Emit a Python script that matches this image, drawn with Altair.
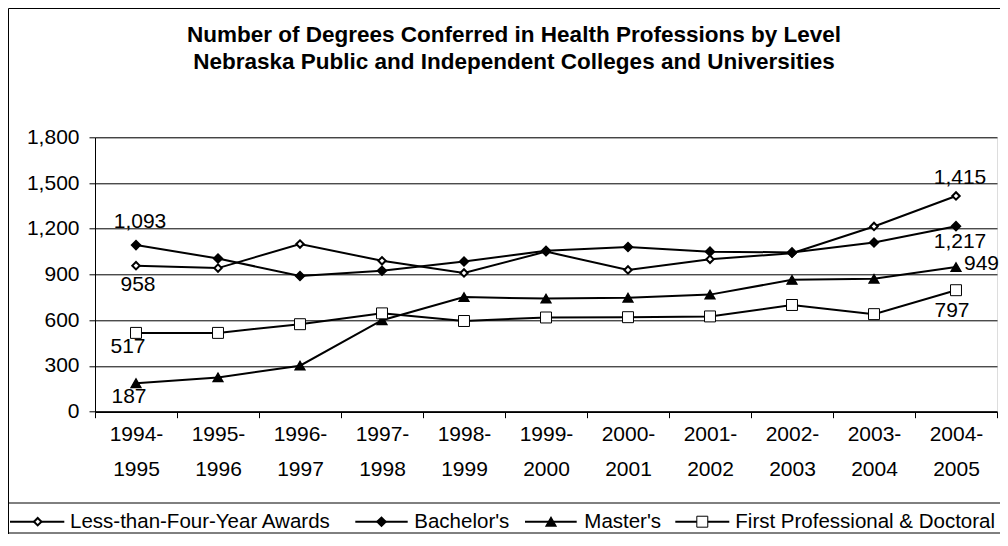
import altair as alt
import pandas as pd

# ---- data ----
periods = ["1994- 1995", "1995- 1996", "1996- 1997", "1997- 1998", "1998- 1999",
           "1999- 2000", "2000- 2001", "2001- 2002", "2002- 2003", "2003- 2004", "2004- 2005"]
series_names = ["Less-than-Four-Year Awards", "Bachelor's", "Master's", "First Professional & Doctoral"]
less_than_four = [958, 942, 1100, 990, 910, 1050, 930, 1000, 1040, 1215, 1415]
bachelors = [1093, 1005, 890, 925, 985, 1055, 1080, 1050, 1045, 1110, 1217]
masters = [187, 225, 302, 600, 752, 742, 748, 768, 865, 872, 949]
first_prof = [517, 517, 574, 645, 595, 618, 620, 625, 700, 640, 797]
y_ticks = [0, 300, 600, 900, 1200, 1500, 1800]
title_lines = ["Number of Degrees Conferred in Health Professions by Level",
               "Nebraska Public and Independent Colleges and Universities"]

values = [less_than_four, bachelors, masters, first_prof]
rows = []
for name, vals in zip(series_names, values):
    for p, v in zip(periods, vals):
        rows.append({"period": p, "series": name, "value": v})
df = pd.DataFrame(rows)

FONT = "Liberation Sans"
FS = 21

shape_scale = alt.Scale(domain=series_names, range=["diamond", "diamond", "triangle-up", "square"])
fill_scale = alt.Scale(domain=series_names, range=["white", "black", "black", "white"])
size_scale = alt.Scale(domain=series_names, range=[55, 120, 150, 90])
sw_scale = alt.Scale(domain=series_names, range=[2, 1, 1, 2])

x_enc = alt.X("period:N", sort=periods, bandPosition=0.5,
              scale=alt.Scale(type="band", paddingInner=0, paddingOuter=0),
              axis=alt.Axis(title=None, labelExpr="split(datum.label, ' ')", tickBand="extent",
                            labelAngle=0, labelFont=FONT, labelFontSize=FS, labelColor="black",
                            labelLineHeight=35, labelPadding=5.7, labelBaseline="top",
                            tickSize=6, tickColor="black", domainColor="black", domainWidth=1.5,
                            grid=False))
y_enc = alt.Y("value:Q", scale=alt.Scale(domain=[0, 1800], nice=False),
              axis=alt.Axis(title=None, values=y_ticks, format=",.0f", tickSize=6, tickColor="black",
                            labelPadding=10, labelFont=FONT, labelFontSize=FS, labelColor="black",
                            domainColor="black", gridColor="black", gridWidth=1, grid=True))

base = alt.Chart(df)
lines = base.mark_line(color="black", strokeWidth=2).encode(x=x_enc, y=y_enc, detail="series:N")
points = base.mark_point(stroke="black", opacity=1, filled=False).encode(
    x=x_enc, y=y_enc,
    shape=alt.Shape("series:N", scale=shape_scale, legend=None),
    fill=alt.Fill("series:N", scale=fill_scale, legend=None),
    size=alt.Size("series:N", scale=size_scale, legend=None),
    strokeWidth=alt.StrokeWidth("series:N", scale=sw_scale, legend=None),
)

# data labels on first and last points (offsets are styling)
label_specs = [
    ("Bachelor's", periods[0], 4, -17, "center"),
    ("Less-than-Four-Year Awards", periods[0], 2, 25, "center"),
    ("First Professional & Doctoral", periods[0], -8, 20, "center"),
    ("Master's", periods[0], -7, 20, "center"),
    ("Less-than-Four-Year Awards", periods[-1], 4, -12, "center"),
    ("Bachelor's", periods[-1], 4, 22, "center"),
    ("Master's", periods[-1], 8, 3, "left"),
    ("First Professional & Doctoral", periods[-1], -4, 26.5, "center"),
]
label_layers = []
for s, p, dx, dy, al in label_specs:
    label_layers.append(
        base.transform_filter((alt.datum.series == s) & (alt.datum.period == p))
        .mark_text(font=FONT, fontSize=FS, color="black", dx=dx, dy=dy, align=al, baseline="alphabetic")
        .encode(x=x_enc, y=y_enc, text=alt.Text("value:Q", format=","))
    )

# title
one = alt.Chart(pd.DataFrame({"t1": [title_lines[0]], "t2": [title_lines[1]]}))
title1 = one.mark_text(font=FONT, fontSize=22.5, fontWeight="bold", color="black", align="center",
                       baseline="alphabetic").encode(x=alt.value(419), y=alt.value(-95.5), text="t1:N")
title2 = one.mark_text(font=FONT, fontSize=22.5, fontWeight="bold", color="black", align="center",
                       baseline="alphabetic").encode(x=alt.value(419), y=alt.value(-68), text="t2:N")

# borders
outer = one.mark_rect(fill=None, stroke="black", strokeWidth=1).encode(
    x=alt.value(-86.5), x2=alt.value(920), y=alt.value(-128.8), y2=alt.value(420))
legend_top = one.mark_rule(color="black", strokeWidth=1).encode(
    x=alt.value(-87), x2=alt.value(920), y=alt.value(365.7))
legend_bottom = one.mark_rule(color="black", strokeWidth=1).encode(
    x=alt.value(-87), x2=alt.value(920), y=alt.value(395.7))

# legend
leg_df = pd.DataFrame({"series": series_names})
leg = alt.Chart(leg_df)
leg_pos = [(-85, -30.7, -57.3, -25), (260.3, 312.7, 286.5, 319.3),
           (430, 481.7, 456, 489.3), (580.3, 634.3, 607.3, 640.3)]
LY = 384.4
legend_layers = []
for s, (x1, x2, mx, tx) in zip(series_names, leg_pos):
    f = leg.transform_filter(alt.datum.series == s)
    legend_layers.append(f.mark_rule(color="black", strokeWidth=2).encode(
        x=alt.value(x1), x2=alt.value(x2), y=alt.value(LY)))
    legend_layers.append(f.mark_point(stroke="black", opacity=1).encode(
        x=alt.value(mx), y=alt.value(LY),
        shape=alt.Shape("series:N", scale=shape_scale, legend=None),
        fill=alt.Fill("series:N", scale=fill_scale, legend=None),
        size=alt.Size("series:N", scale=size_scale, legend=None),
        strokeWidth=alt.StrokeWidth("series:N", scale=sw_scale, legend=None)))
    legend_layers.append(f.mark_text(font=FONT, fontSize=20.5, color="black", align="left",
                                     baseline="alphabetic").encode(
        x=alt.value(tx), y=alt.value(391), text="series:N"))

chart = alt.layer(lines, points, *label_layers, title1, title2, outer, legend_top, legend_bottom,
                  *legend_layers).properties(
    width=902, height=274.4,
    autosize=alt.AutoSizeParams(type="none"),
    padding={"left": 87, "top": 129.3, "right": 3, "bottom": 122.3},
).configure_view(stroke="#808080", strokeWidth=2).configure(font=FONT)

chart.save("out.html", embed_options={"renderer": "svg", "actions": False})
